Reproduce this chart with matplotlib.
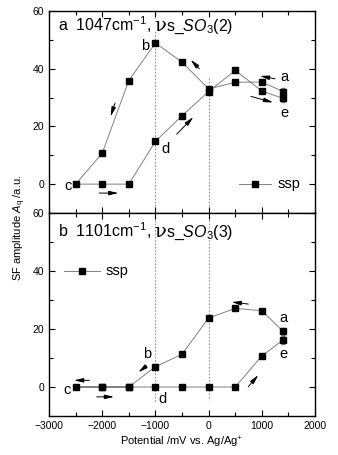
import matplotlib
matplotlib.use("Agg")
import matplotlib.pyplot as plt
from matplotlib.transforms import offset_copy

plt.rcParams['font.family'] = ['Liberation Sans', 'DejaVu Sans']
plt.rcParams['mathtext.fontset'] = 'custom'
plt.rcParams['mathtext.rm'] = 'Liberation Sans'
plt.rcParams['mathtext.it'] = 'Liberation Sans:italic'

# Panel a: 1047 cm-1
pot_a = [1400, 1000, 500, 0, -500, -1000, -1500, -2000, -2500,
         -2000, -1500, -1000, -500, 0, 500, 1000, 1400]
amp_a = [32.1, 35.4, 35.3, 33.0, 42.3, 48.9, 35.9, 10.7, 0.0,
         0.0, 0.0, 14.8, 23.7, 32.1, 39.4, 32.3, 29.7]
err_a = [1.2, 0, 0, 0, 0, 0, 0, 0, 0, 0, 0, 0, 0, 0, 0, 0, 1.2]

# Panel b: 1101 cm-1
pot_b = [1400, 1000, 500, 0, -500, -1000, -1500, -2000, -2500,
         -2000, -1500, -1000, -500, 0, 500, 1000, 1400]
amp_b = [19.2, 26.3, 27.1, 23.8, 11.3, 7.0, 0.0, 0.0, 0.0,
         0.0, 0.0, 0.0, 0.0, 0.0, 0.0, 10.7, 16.2]
err_b = [1.3, 0, 0, 0, 0, 0, 0, 0, 0, 0, 0, 0, 0, 0, 0, 0, 1.3]

x_ticks = [-3000, -2000, -1000, 0, 1000, 2000]
y_ticks = [0, 20, 40, 60]

fig = plt.figure(figsize=(3.38, 4.55), dpi=100)
L, W = 0.145, 0.787
ax1 = fig.add_axes([L, 0.5319, W, 0.9758 - 0.5319])
ax2 = fig.add_axes([L, 0.0857, W, 0.5319 - 0.0857])

def style(ax, show_x):
    ax.set_xlim(-3000, 2000)
    ax.set_ylim(-10, 60)
    ax.set_xticks(x_ticks)
    ax.set_xticks([-2500, -1500, -500, 500, 1500], minor=True)
    ax.set_yticks(y_ticks)
    ax.set_yticks([-10, 10, 30, 50], minor=True)
    ax.tick_params(which='both', direction='in', top=True, right=True, labelsize=7.5, width=0.8)
    ax.tick_params(which='major', length=4)
    ax.tick_params(which='minor', length=3)
    if not show_x:
        ax.tick_params(labelbottom=False)
    for s in ax.spines.values():
        s.set_linewidth(1.0)

def draw(ax, x, y, e):
    ax.plot(x, y, '-', color='#808080', lw=0.7, zorder=2)
    ax.plot(x, y, 's', color='black', ms=4.5, zorder=3, lw=0)
    xe = [xi for xi, ei in zip(x, e) if ei > 0]
    ye = [yi for yi, ei in zip(y, e) if ei > 0]
    ee = [ei for ei in e if ei > 0]
    ax.errorbar(xe, ye, yerr=ee, fmt='none', ecolor='#808080', elinewidth=0.7, capsize=1.5, zorder=2)

style(ax1, False)
style(ax2, True)
draw(ax1, pot_a, amp_a, err_a)
draw(ax2, pot_b, amp_b, err_b)

dot = dict(color='#909090', lw=0.8, ls=(0, (1.5, 1.5)), zorder=1)
ax1.plot([-1000, -1000], [-10, 53.5], **dot)
ax1.plot([0, 0], [-10, 37.2], **dot)
ax2.plot([-1000, -1000], [60, -5.5], **dot)
ax2.plot([0, 0], [60, -4.5], **dot)

renderer = fig.canvas.get_renderer()

def title(ax, x, y, head, tail):
    t1 = ax.text(x, y, head, fontsize=11.5, va='baseline', ha='left')
    bb = t1.get_window_extent(renderer)
    t2 = ax.text(x, y, "ν", fontsize=14, family='DejaVu Serif', va='baseline', ha='left',
                 transform=offset_copy(ax.transData, fig=fig, x=bb.width / fig.dpi * 72 + 1, y=0, units='points'))
    bb2 = t2.get_window_extent(renderer)
    ax.text(x, y, tail, fontsize=11.5, va='baseline', ha='left',
            transform=offset_copy(ax.transData, fig=fig,
                                  x=(bb.width + bb2.width) / fig.dpi * 72 + 1, y=0, units='points'))

title(ax1, -2830, 53.2, r"a  1047cm$^{-1}$, ", r"s_$\mathit{SO_3(2)}$")
title(ax2, -2830, 51.8, r"b  1101cm$^{-1}$, ", r"s_$\mathit{SO_3(3)}$")

lbl = dict(fontsize=10.5, ha='center', va='center')
ax1.text(-1195, 47.8, 'b', **lbl)
ax1.text(-2637, -0.6, 'c', **lbl)
ax1.text(-805, 12.1, 'd', **lbl)
ax1.text(1420, 37.1, 'a', **lbl)
ax1.text(1420, 24.6, 'e', **lbl)
ax2.text(-1164, 11.4, 'b', **lbl)
ax2.text(-2667, -1.1, 'c', **lbl)
ax2.text(-870, -4.1, 'd', **lbl)
ax2.text(1404, 23.7, 'a', **lbl)
ax2.text(1404, 11.3, 'e', **lbl)

arr = dict(arrowstyle='-|>,head_length=0.55,head_width=0.13', color='black', lw=0.7, shrinkA=0, shrinkB=0)
def arrow(ax, x0, y0, x1, y1):
    ax.annotate('', xy=(x1, y1), xytext=(x0, y0), arrowprops=arr)

arrow(ax1, 1248, 36.5, 966, 37.5)
arrow(ax1, 797, 30.4, 1211, 28.3)
arrow(ax1, -175, 40.0, -337, 43.1)
arrow(ax1, -1759, 28.1, -1841, 23.5)
arrow(ax1, -600, 17.3, -288, 23.2)
arrow(ax1, -2054, -3.1, -1697, -3.1)

arrow(ax2, -2242, 2.3, -2530, 2.3)
arrow(ax2, -2103, -3.4, -1778, -3.4)
arrow(ax2, -1164, 7.3, -1321, 5.1)
arrow(ax2, 746, 28.6, 434, 29.3)
arrow(ax2, 746, 0.1, 934, 4.1)

# legends (line-marker-line sample)
ax1.plot([570, 1170], [0, 0], '-', color='#808080', lw=0.7)
ax1.plot([870], [0], 's', color='black', ms=4.5)
ax1.text(1300, 0, 'ssp', fontsize=10.5, va='center', ha='left')
ax2.plot([-2720, -2040], [40, 40], '-', color='#808080', lw=0.7)
ax2.plot([-2380], [40], 's', color='black', ms=4.5)
ax2.text(-1940, 40, 'ssp', fontsize=10.5, va='center', ha='left')

ax2.set_xlabel(r"Potential /mV vs. Ag/Ag$^{+}$", fontsize=8, labelpad=3)
fig.text(0.06, 0.5, r"SF amplitude $\mathit{A}_{\mathrm{q}}$ /a.u.", rotation=90, fontsize=8, ha='center', va='center')

fig.savefig("out.png", dpi=100)
